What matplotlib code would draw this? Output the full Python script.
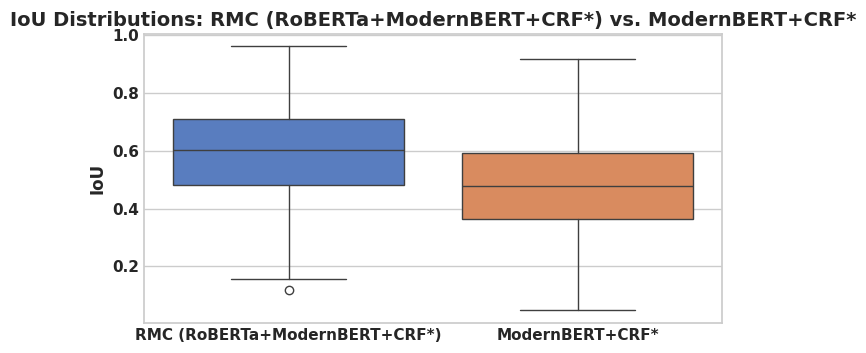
import matplotlib
matplotlib.use("Agg")
import matplotlib.pyplot as plt
import seaborn as sns

sns.set_theme(style="whitegrid")
plt.rcParams['font.family'] = ['DejaVu Sans']

categories = ["RMC (RoBERTa+ModernBERT+CRF*)", "ModernBERT+CRF*"]
q1 = [0.483, 0.365]
median = [0.603, 0.479]
q3 = [0.709, 0.592]
whisker_low = [0.155, 0.050]
whisker_high = [0.963, 0.919]
fliers = [[0.119], []]

colors = [sns.desaturate(c, 0.75) for c in sns.color_palette("muted", 2)]

fig = plt.figure(figsize=(8.66, 3.53), dpi=100)
ax = fig.add_axes([144/866, 1 - 323/353, 578/866, 289/353])

stats = []
for i, name in enumerate(categories):
    stats.append(dict(label=name, q1=q1[i], med=median[i], q3=q3[i],
                      whislo=whisker_low[i], whishi=whisker_high[i],
                      fliers=fliers[i]))

line_c = "#3f3f3f"
bp = ax.bxp(stats, positions=range(len(categories)), widths=0.8,
            patch_artist=True, showfliers=True, capwidths=0.4,
            boxprops=dict(edgecolor=line_c, linewidth=1.0),
            medianprops=dict(color=line_c, linewidth=1.0),
            whiskerprops=dict(color=line_c, linewidth=1.0),
            capprops=dict(color=line_c, linewidth=1.0),
            flierprops=dict(marker='o', markerfacecolor='none',
                            markeredgecolor=line_c, markersize=6, markeredgewidth=1.0))
for patch, c in zip(bp['boxes'], colors):
    patch.set_facecolor(c)

ax.set_xlim(-0.5, 1.5)
ax.set_ylim(0.004, 1.004)
ax.set_xticks(range(len(categories)))
ax.set_xticklabels(categories, fontsize=11, fontweight='bold')
ax.set_yticks([0.2, 0.4, 0.6, 0.8, 1.0])
ax.set_yticklabels(["0.2", "0.4", "0.6", "0.8", "1.0"], fontsize=11, fontweight='bold')
ax.tick_params(axis='both', length=0, pad=3.5)
ax.xaxis.grid(False)
ax.yaxis.grid(True, color="#cccccc")
ax.set_ylabel("IoU", fontsize=12, fontweight='bold', labelpad=4)
ax.set_title("IoU Distributions: RMC (RoBERTa+ModernBERT+CRF*) vs. ModernBERT+CRF*",
             fontsize=14, fontweight='bold', pad=6)
for s in ax.spines.values():
    s.set_color("#cccccc")

fig.savefig("out.png", dpi=100)
